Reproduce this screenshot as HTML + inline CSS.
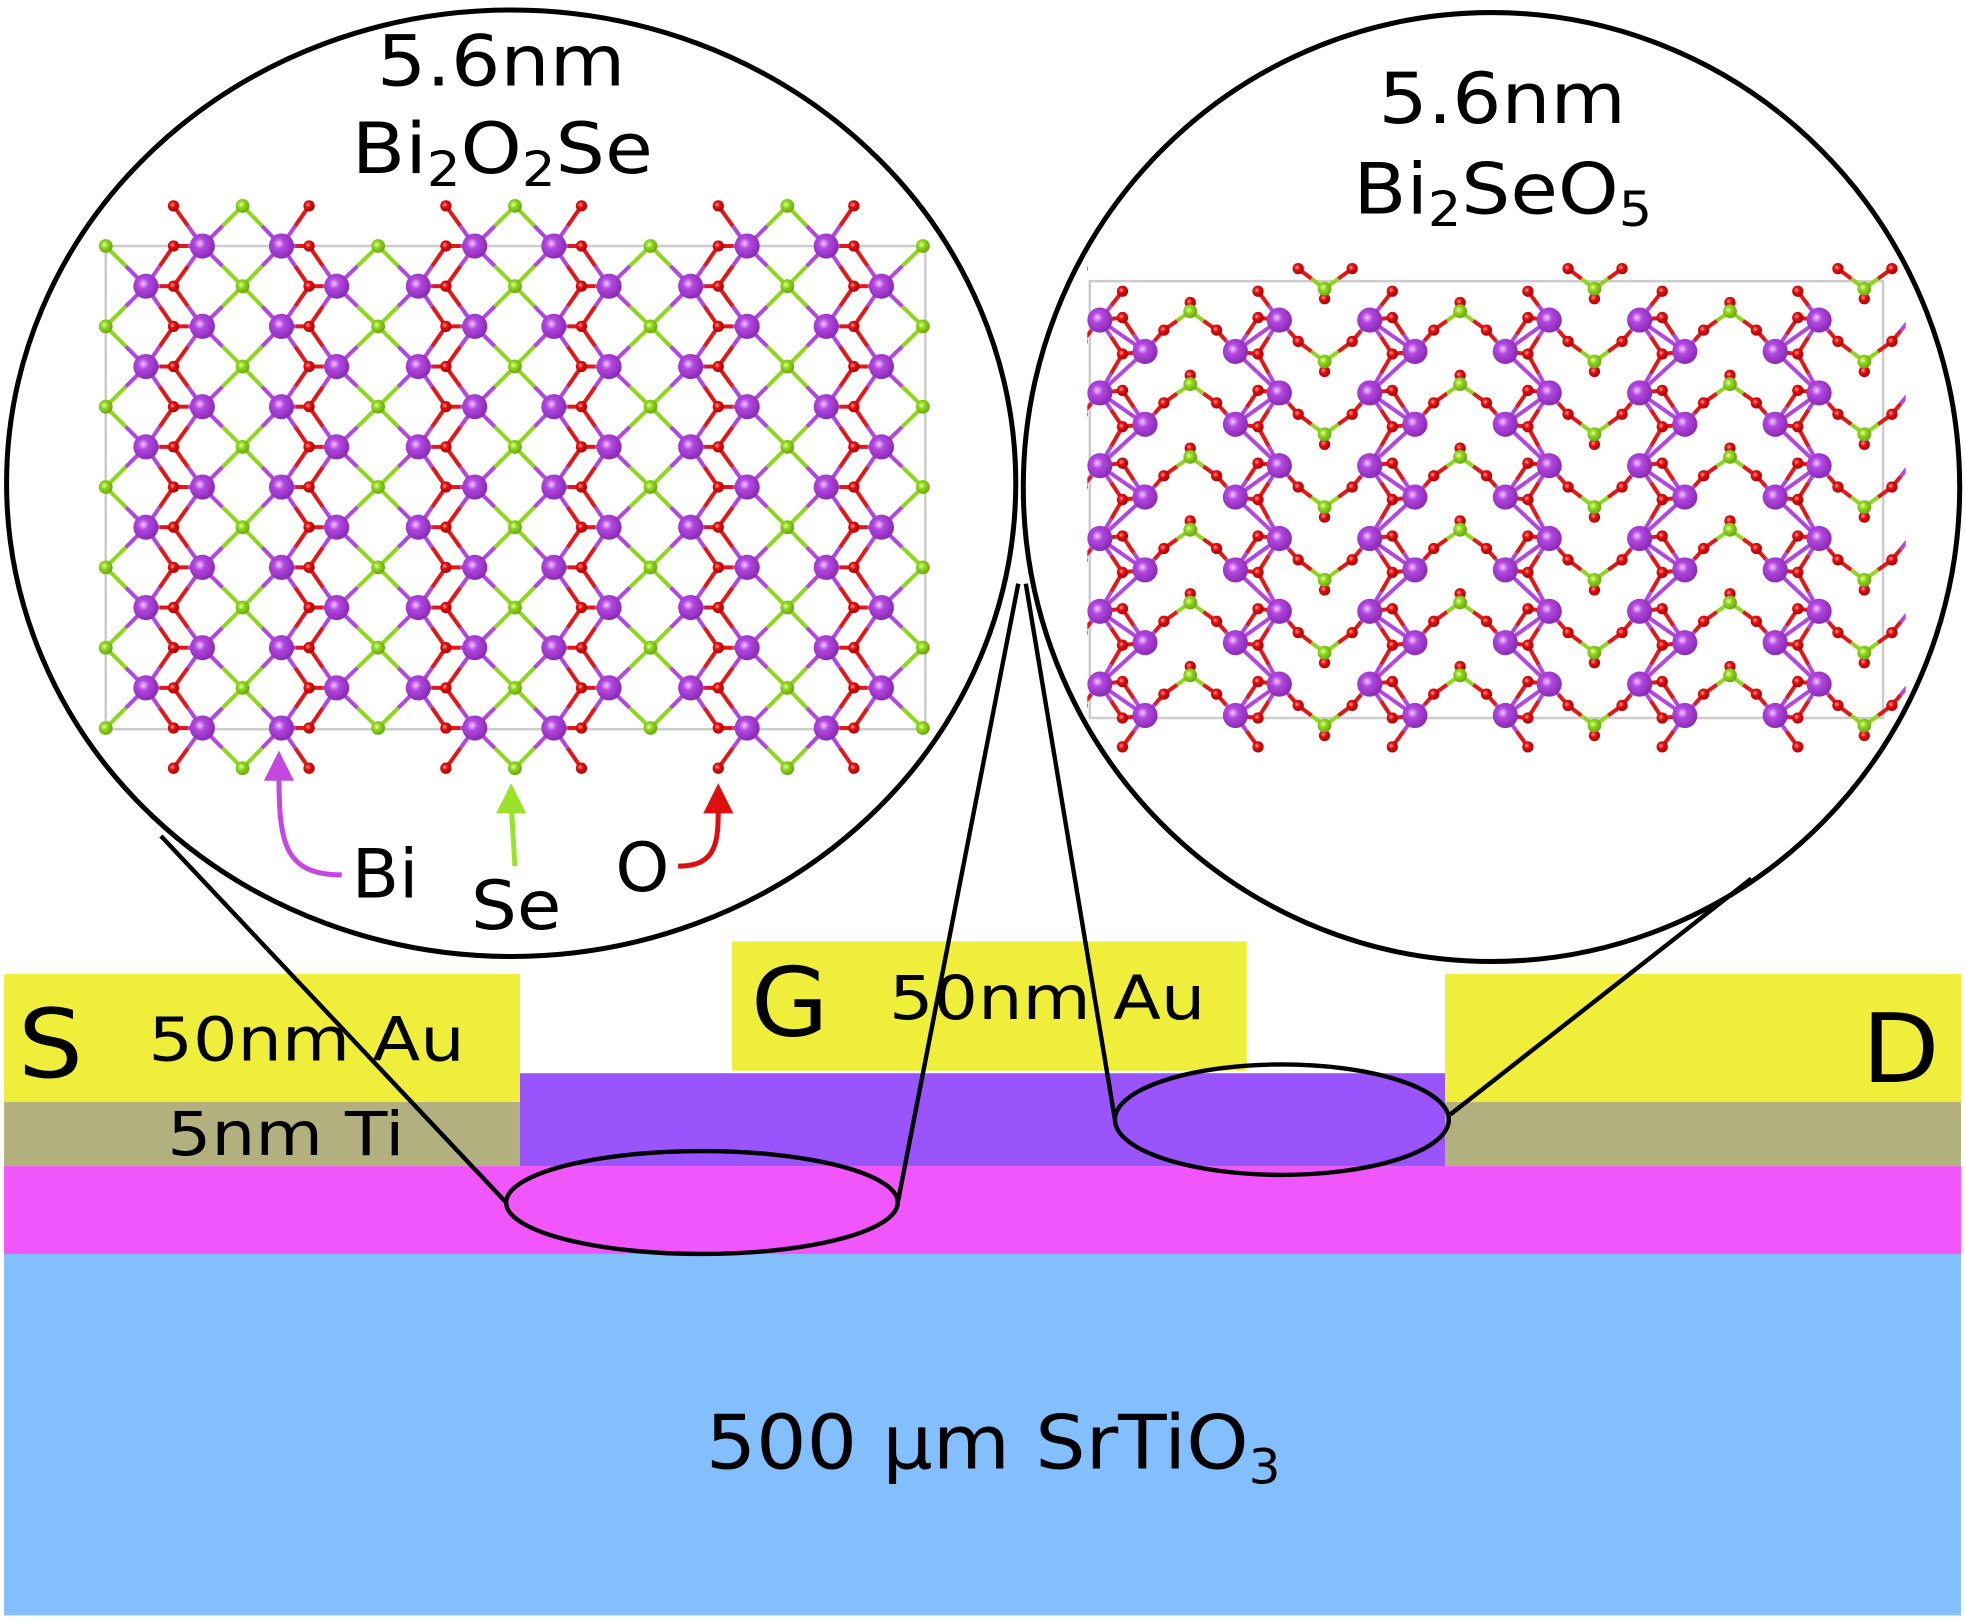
<!DOCTYPE html>
<html><head><meta charset="utf-8"><style>
html,body{margin:0;padding:0;background:#fff;}
svg{display:block;}
text{font-family:"DejaVu Sans","Liberation Sans",sans-serif;fill:#000;}
</style></head><body>
<svg id="s" width="1965" height="1623" viewBox="0 0 1565 1293" xmlns="http://www.w3.org/2000/svg">
<defs>
<radialGradient id="gb" cx="40%" cy="40%" r="60%"><stop offset="0" stop-color="#f3c8ff"/><stop offset="0.35" stop-color="#b247e0"/><stop offset="1" stop-color="#8a2bb5"/></radialGradient>
<radialGradient id="gs" cx="40%" cy="40%" r="60%"><stop offset="0" stop-color="#e8ff9a"/><stop offset="0.4" stop-color="#8fd61e"/><stop offset="1" stop-color="#6aa812"/></radialGradient>
<radialGradient id="go" cx="40%" cy="40%" r="60%"><stop offset="0" stop-color="#ff9a9a"/><stop offset="0.4" stop-color="#e01010"/><stop offset="1" stop-color="#b00000"/></radialGradient>
<clipPath id="cl"><ellipse cx="407" cy="385" rx="400" ry="375"/></clipPath>
<clipPath id="cr"><rect x="866" y="150" width="652" height="470"/></clipPath>
</defs>
<rect x="3" y="999" width="1559" height="288" fill="#83befd"/>
<rect x="3" y="929" width="1559" height="70" fill="#f056fb"/>
<rect x="414" y="855" width="737" height="74" fill="#9955fb"/>
<rect x="3" y="776" width="411" height="102" fill="#efee3a"/>
<rect x="3" y="878" width="411" height="51" fill="#b2b07e"/>
<rect x="1151" y="776" width="411" height="102" fill="#efee3a"/>
<rect x="1151" y="878" width="411" height="51" fill="#b2b07e"/>
<rect x="583" y="750" width="410" height="103" fill="#efee3a"/>
<text x="14" y="858" font-size="76" textLength="52" lengthAdjust="spacingAndGlyphs">S</text>
<text x="118" y="845" font-size="48" textLength="252" lengthAdjust="spacingAndGlyphs">50nm Au</text>
<text x="133" y="920" font-size="48" textLength="189" lengthAdjust="spacingAndGlyphs">5nm Ti</text>
<text x="598" y="825" font-size="76" textLength="62" lengthAdjust="spacingAndGlyphs">G</text>
<text x="708" y="812" font-size="48" textLength="252" lengthAdjust="spacingAndGlyphs">50nm Au</text>
<text x="1483" y="862" font-size="76" textLength="62" lengthAdjust="spacingAndGlyphs">D</text>
<text x="562" y="1170" font-size="60" textLength="458" lengthAdjust="spacingAndGlyphs">500 µm SrTiO<tspan font-size="38" dy="12">3</tspan></text>
<g fill="none" stroke="#000" stroke-width="3.5">
<ellipse cx="559" cy="958" rx="156" ry="41"/>
<ellipse cx="1021" cy="892" rx="133" ry="44"/>
<line x1="128" y1="666" x2="403" y2="958"/>
<line x1="811" y1="465" x2="715" y2="958"/>
<line x1="817" y1="465" x2="888" y2="892"/>
<line x1="1395" y1="700" x2="1155" y2="888"/>
</g>
<g id="L" clip-path="url(#cl)"></g>
<g id="R" clip-path="url(#cr)"></g>
<g fill="none" stroke="#000" stroke-width="4">
<ellipse cx="407" cy="385" rx="402" ry="377"/>
<ellipse cx="1188" cy="388" rx="373" ry="378"/>
</g>
<text x="300" y="68" font-size="56" textLength="198" lengthAdjust="spacingAndGlyphs">5.6nm</text>
<text x="280" y="138" font-size="56" textLength="240" lengthAdjust="spacingAndGlyphs">Bi<tspan font-size="38" dy="10">2</tspan><tspan dy="-10">O</tspan><tspan font-size="38" dy="10">2</tspan><tspan dy="-10">Se</tspan></text>
<text x="1098" y="98" font-size="56" textLength="197" lengthAdjust="spacingAndGlyphs">5.6nm</text>
<text x="1078" y="170" font-size="56" textLength="238" lengthAdjust="spacingAndGlyphs">Bi<tspan font-size="38" dy="10">2</tspan><tspan dy="-10">SeO</tspan><tspan font-size="38" dy="10">5</tspan></text>
<text x="280" y="715" font-size="54" textLength="53" lengthAdjust="spacingAndGlyphs">Bi</text>
<text x="375" y="740" font-size="54" textLength="72" lengthAdjust="spacingAndGlyphs">Se</text>
<text x="490" y="710" font-size="54" textLength="43" lengthAdjust="spacingAndGlyphs">O</text>
<path d="M272,697 C225,697 222,670 222,615" fill="none" stroke="#c447e0" stroke-width="4"/>
<polygon points="210,622 234,622 222,598" fill="#c447e0"/>
<path d="M410,690 L407,640" fill="none" stroke="#9de22a" stroke-width="4"/>
<polygon points="395,648 419,648 407,624" fill="#9de22a"/>
<path d="M540,690 C572,690 572,670 572,640" fill="none" stroke="#dd1010" stroke-width="4"/>
<polygon points="560,648 584,648 572,624" fill="#dd1010"/>
</svg>
<script>
var NS="http://www.w3.org/2000/svg";
function el(p,t,a){var e=document.createElementNS(NS,t);for(var k in a)e.setAttribute(k,a[k]);p.appendChild(e);return e;}
var col={B:"#b247e0",S:"#8fd61e",O:"#e01818"};
var rad={B:10,S:5.5,O:4.5};
var gr={B:"url(#gb)",S:"url(#gs)",O:"url(#go)"};
function bond(g,a,b){var mx=(a[0]+b[0])/2,my=(a[1]+b[1])/2;
el(g,"line",{x1:a[0],y1:a[1],x2:mx,y2:my,stroke:col[a[2]],"stroke-width":3.2});
el(g,"line",{x1:mx,y1:my,x2:b[0],y2:b[1],stroke:col[b[2]],"stroke-width":3.2});}
function draw(g,atoms,bonds){bonds.forEach(function(b){bond(g,b[0],b[1]);});
atoms.sort(function(a,b){return rad[a[2]]-rad[b[2]];});
atoms.forEach(function(a){el(g,"circle",{cx:a[0],cy:a[1],r:rad[a[2]],fill:gr[a[2]]});});}
(function(){var g=document.getElementById("L");
el(g,"rect",{x:84,y:196,width:653,height:385,fill:"none",stroke:"#ccc","stroke-width":2});
var atoms=[];
for(var p=0;p<4;p++){var X=84+p*217;
for(var r=0;r<=12;r++){var y=196+r*32,ev=r%2==0;
if(ev){atoms.push([X,y,"S"]);} if(p==3)continue;
if(!ev)atoms.push([X+32,y,"B"]);
atoms.push([X+54,y,"O"]);
if(ev)atoms.push([X+77,y,"B"]);
if(!ev)atoms.push([X+109,y,"S"]);
if(ev)atoms.push([X+140,y,"B"]);
atoms.push([X+162,y,"O"]);
if(!ev)atoms.push([X+184,y,"B"]);}
if(p<3){[164,612].forEach(function(y){atoms.push([X+54,y,"O"]);atoms.push([X+109,y,"S"]);atoms.push([X+162,y,"O"]);});}}
var bonds=[];
atoms.forEach(function(a){if(a[2]!="B")return;atoms.forEach(function(b){if(b[2]=="B")return;
var d=Math.hypot(a[0]-b[0],a[1]-b[1]);
if(b[2]=="S"&&d<48&&d>30)bonds.push([a,b]);
if(b[2]=="O"&&d<30)bonds.push([a,b]);
if(b[2]=="O"&&d>=30&&d<42&&Math.abs(a[1]-b[1])>20)bonds.push([a,b]);});});
draw(g,atoms,bonds);})();
(function(){var g=document.getElementById("R");
el(g,"rect",{x:868,y:224,width:632,height:348,fill:"none",stroke:"#ccc","stroke-width":2});
var atoms=[],bonds=[];
function A(x,y,t){var a=[x,y,t];atoms.push(a);return a;}
for(var p=-1;p<3;p++){var X=876+p*215;
for(var r=-1;r<6;r++){var Y=255+r*58;
var sd=A(X+179,Y+33,"S"),so=A(X+179,Y+41,"O"),o1=A(X+158,Y+17,"O"),o2=A(X+201,Y+17,"O");
bonds.push([sd,so]);bonds.push([sd,o1]);bonds.push([sd,o2]);
if(r<0){continue;}
var b1=A(X,Y,"B"),b2=A(X+36,Y+25,"B"),b3=A(X+108,Y+25,"B"),b4=A(X+143,Y,"B");
var oa=A(X+18,Y-2,"O"),ob=A(X+18,Y+27,"O"),oc=A(X+126,Y-2,"O"),od=A(X+126,Y+27,"O");
var su=A(X+72,Y-7,"S"),st=A(X+72,Y-14,"O"),oe=A(X+51,Y+8,"O"),of=A(X+93,Y+8,"O");
var nb1=[X,Y+58,"B"],nb4=[X+143,Y+58,"B"];
bonds.push([b1,oa],[b1,ob],[b2,ob],[b2,oa],[b1,b2],[b3,od],[b3,oc],[b4,oc],[b4,od],[b4,b3],
[b2,oe],[oe,su],[su,of],[of,b3],[su,st],[b4,o1],[o2,[X+215,Y,"B"]]);
if(r<5){bonds.push([b2,nb1],[b3,nb4],[ob,nb1],[od,nb4]);}
if(r==0){var t1=A(X+18,Y-23,"O"),t2=A(X+126,Y-23,"O");bonds.push([b1,t1],[b4,t2]);}
if(r==5){var u1=A(X+18,Y+50,"O"),u2=A(X+126,Y+50,"O");bonds.push([b2,u1],[b3,u2]);}
}}
draw(g,atoms,bonds);})();
</script>
</body></html>
